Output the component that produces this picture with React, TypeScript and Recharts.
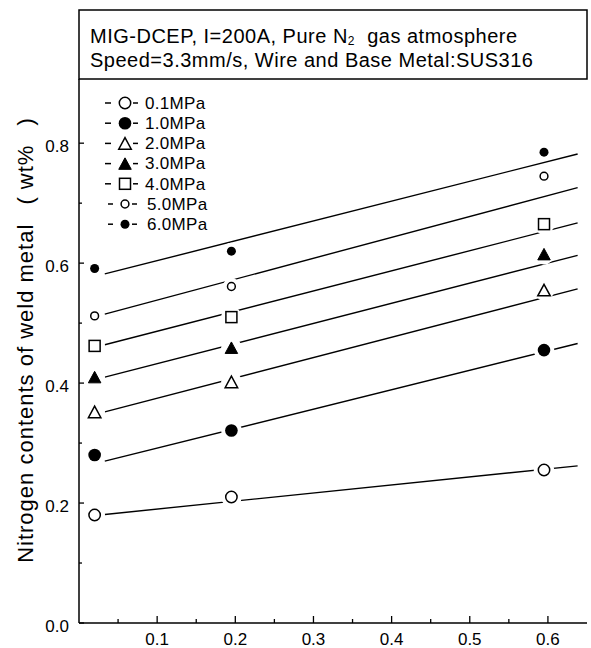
import React from 'react';
import { ComposedChart, Line, Scatter, XAxis, YAxis, Legend } from 'recharts';

// ---- data ----
const xPositions = [0.02, 0.195, 0.595];
const n01 = [0.18, 0.21, 0.255];
const n10 = [0.28, 0.321, 0.455];
const n20 = [0.352, 0.402, 0.555];
const n30 = [0.41, 0.459, 0.615];
const n40 = [0.462, 0.51, 0.665];
const n50 = [0.512, 0.561, 0.745];
const n60 = [0.591, 0.62, 0.785];

// fitted straight lines (start / end values)
const fitX = [0.033, 0.638];
const fit01 = [0.181, 0.262];
const fit10 = [0.27, 0.466];
const fit20 = [0.352, 0.557];
const fit30 = [0.41, 0.613];
const fit40 = [0.464, 0.667];
const fit50 = [0.515, 0.726];
const fit60 = [0.582, 0.782];

const seriesLabels = ['0.1MPa', '1.0MPa', '2.0MPa', '3.0MPa', '4.0MPa', '5.0MPa', '6.0MPa'];
const markerKinds = ['openCircleL', 'filledCircleL', 'openTri', 'filledTri', 'openSquare', 'openCircleS', 'filledCircleS'];
const seriesValues = [n01, n10, n20, n30, n40, n50, n60];
const fitValues = [fit01, fit10, fit20, fit30, fit40, fit50, fit60];

const xTicks = [0.05, 0.1, 0.15, 0.2, 0.25, 0.3, 0.35, 0.4, 0.45, 0.5, 0.55, 0.6];
const xLabelTicks = ['0.1', '0.2', '0.3', '0.4', '0.5', '0.6'];
const yTicks = [0, 0.1, 0.2, 0.3, 0.4, 0.5, 0.6, 0.7, 0.8];
const yLabelTicks = ['0.0', '0.2', '0.4', '0.6', '0.8'];
const yTicksRight = [0.1, 0.2, 0.3, 0.4, 0.5, 0.6, 0.7, 0.8];
const xDomain = [0, 0.65];
const yDomain = [0, 0.907];

const titleLine1a = 'MIG-DCEP, I=200A, Pure N';
const titleSub = '2';
const titleLine1b = '  gas atmosphere';
const titleLine2 = 'Speed=3.3mm/s, Wire and Base Metal:SUS316';
const yAxisTitle = 'Nitrogen contents of weld metal\u2002 ( wt%\u2002 )';

const FONT = '"Liberation Sans", Arial, Helvetica, sans-serif';

const scatterData = seriesValues.map((vals) => vals.map((v, i) => ({ x: xPositions[i], y: v })));
const fitData = fitValues.map((vals) => vals.map((v, i) => ({ x: fitX[i], y: v })));

function markerRadius(kind: string) {
  if (kind === 'openCircleS' || kind === 'filledCircleS') return 4.5;
  return 6.3;
}

function Marker({ kind, cx, cy, halo }: { kind: string; cx: number; cy: number; halo?: boolean }) {
  const sw = 1.5;
  const r = markerRadius(kind);
  const haloEl = halo ? <circle cx={cx} cy={cy} r={r + 4} fill="#fff" /> : null;
  let el: any = null;
  if (kind === 'openCircleL' || kind === 'openCircleS') {
    el = <circle cx={cx} cy={cy} r={r - 0.6} fill="#fff" stroke="#000" strokeWidth={sw} />;
  } else if (kind === 'filledCircleL' || kind === 'filledCircleS') {
    el = <circle cx={cx} cy={cy} r={r} fill="#000" />;
  } else if (kind === 'openTri' || kind === 'filledTri') {
    const w = 12.5, h = 11.5;
    const pts = `${cx},${cy - h / 2} ${cx + w / 2},${cy + h / 2} ${cx - w / 2},${cy + h / 2}`;
    el = kind === 'openTri'
      ? <polygon points={pts} fill="#fff" stroke="#000" strokeWidth={sw} strokeLinejoin="miter" />
      : <polygon points={pts} fill="#000" stroke="#000" strokeWidth={1} />;
  } else if (kind === 'openSquare') {
    const s = 11;
    el = <rect x={cx - s / 2} y={cy - s / 2} width={s} height={s} fill="#fff" stroke="#000" strokeWidth={sw} />;
  }
  return <g>{haloEl}{el}</g>;
}

const BottomTick = (props: any) => {
  const { x, y, payload } = props;
  const label = Number(payload.value).toFixed(1);
  const major = xLabelTicks.includes(label) && Math.abs(payload.value * 10 - Math.round(payload.value * 10)) < 1e-6;
  return (
    <g>
      <line x1={x} x2={x} y1={y} y2={y - (major ? 7 : 4)} stroke="#000" strokeWidth={1.3} />
      {major && (
        <text x={x} y={y + 22} textAnchor="middle" fontSize={17} fontFamily={FONT} fill="#000">{label}</text>
      )}
    </g>
  );
};

const TopTick = (props: any) => {
  const { x, y } = props;
  return <line x1={x} x2={x} y1={y} y2={y + 5} stroke="#000" strokeWidth={1.3} />;
};

const LeftTick = (props: any) => {
  const { x, y, payload } = props;
  const lab = Number(payload.value).toFixed(1);
  const major = yLabelTicks.includes(lab);
  return (
    <g>
      <line x1={x} x2={x + (major ? 5 : 3)} y1={y} y2={y} stroke="#000" strokeWidth={1.3} />
      {major && (
        <text x={x - 10} y={y + 8.5} textAnchor="end" fontSize={17} fontFamily={FONT} fill="#000">{lab}</text>
      )}
    </g>
  );
};

const RightTick = (props: any) => {
  const { x, y } = props;
  return <line x1={x} x2={x - 5} y1={y} y2={y} stroke="#000" strokeWidth={1.3} />;
};

const LegendContent = () => (
  <svg width={130} height={150} style={{ display: 'block', overflow: 'visible' }}>
    {seriesLabels.map((lab, i) => {
      const cy = 13 + i * 20.2;
      const small = markerKinds[i] === 'openCircleS' || markerKinds[i] === 'filledCircleS';
      return (
        <g key={lab}>
          <line x1={small ? 8 : 5} x2={small ? 13 : 11} y1={cy} y2={cy} stroke="#000" strokeWidth={1.5} />
          <Marker kind={markerKinds[i]} cx={25} cy={cy} />
          <line x1={small ? 32 : 33} x2={small ? 37 : 38} y1={cy} y2={cy} stroke="#000" strokeWidth={1.5} />
          <text x={small ? 47 : 45} y={cy + 5.8} fontSize={17} fontFamily={FONT} letterSpacing={0.3} fill="#000">{lab}</text>
        </g>
      );
    })}
  </svg>
);

const axisLineStyle = { stroke: '#000', strokeWidth: 1.5 };

export default function App() {
  return (
    <div style={{ position: 'absolute', left: 0, top: 0, width: 591, height: 648, background: '#fff' }}>
      <ComposedChart width={591} height={648} margin={{ top: 79, right: 4, bottom: 0, left: 19 }}>
        <XAxis xAxisId="b" type="number" dataKey="x" domain={xDomain} ticks={xTicks} interval={0}
          orientation="bottom" height={25} tickSize={0} tickMargin={0} tickLine={false}
          tick={<BottomTick />} axisLine={axisLineStyle} allowDataOverflow />
        <XAxis xAxisId="t" type="number" dataKey="x" domain={xDomain} ticks={xTicks} interval={0}
          orientation="top" height={0} tickSize={0} tickMargin={0} tickLine={false}
          tick={<TopTick />} axisLine={axisLineStyle} allowDataOverflow />
        <YAxis yAxisId="l" type="number" dataKey="y" domain={yDomain} ticks={yTicks} interval={0}
          orientation="left" width={60} tickSize={0} tickMargin={0} tickLine={false}
          tick={<LeftTick />} axisLine={axisLineStyle} allowDataOverflow />
        <YAxis yAxisId="r" type="number" dataKey="y" domain={yDomain} ticks={yTicksRight} interval={0}
          orientation="right" width={0} tickSize={0} tickMargin={0} tickLine={false}
          tick={<RightTick />} axisLine={axisLineStyle} allowDataOverflow />
        {fitData.map((d, i) => (
          <Line key={'fit' + i} xAxisId="b" yAxisId="l" data={d} dataKey="y" type="linear"
            stroke="#000" strokeWidth={1.4} dot={false} activeDot={false} legendType="none"
            isAnimationActive={false} />
        ))}
        {scatterData.map((d, i) => (
          <Scatter key={'pts' + i} name={seriesLabels[i]} xAxisId="b" yAxisId="l" data={d} dataKey="y"
            isAnimationActive={false}
            shape={(p: any) => <Marker kind={markerKinds[i]} cx={p.cx} cy={p.cy} halo />} />
        ))}
        <Legend layout="vertical" align="center" verticalAlign="middle" content={<LegendContent />}
          wrapperStyle={{ left: 100, top: 90, width: 130, height: 150 }} />
      </ComposedChart>
      <svg width={591} height={648} style={{ position: 'absolute', left: 0, top: 0, pointerEvents: 'none' }}>
        <rect x={79} y={10} width={508} height={69} fill="none" stroke="#000" strokeWidth={1.5} />
        <text x={90} y={43} fontSize={20} fontFamily={FONT} letterSpacing={0.5} fill="#000">
          {titleLine1a}
          <tspan fontSize={12} dy={2}>{titleSub}</tspan>
          <tspan dy={-2} style={{ whiteSpace: 'pre' }}>{titleLine1b}</tspan>
        </text>
        <text x={90} y={67} fontSize={20} fontFamily={FONT} letterSpacing={0.5} fill="#000">{titleLine2}</text>
        <text transform="translate(33,340) rotate(-90)" textAnchor="middle" fontSize={22} fontFamily={FONT}
          letterSpacing={1} fill="#000" style={{ whiteSpace: 'pre' }}>{yAxisTitle}</text>
      </svg>
    </div>
  );
}
